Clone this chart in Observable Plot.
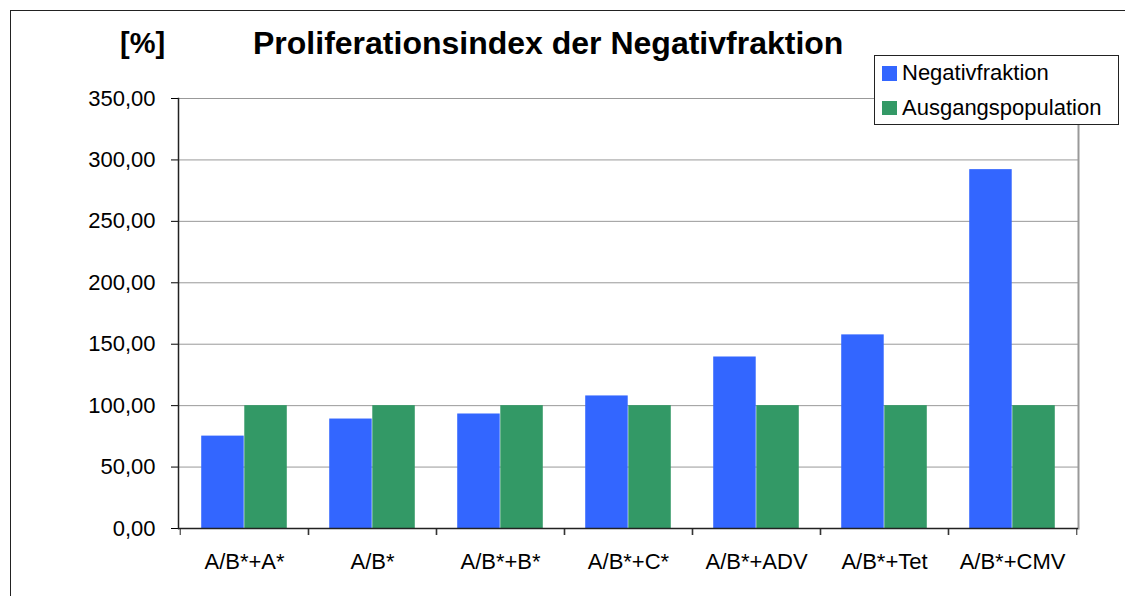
<!DOCTYPE html>
<html><head><meta charset="utf-8">
<script src="https://cdn.jsdelivr.net/npm/d3@7"></script>
<script src="https://cdn.jsdelivr.net/npm/@observablehq/plot@0.6"></script>
<style>
body{margin:0;background:#fff;font-family:"Liberation Sans",Arial,sans-serif;}
#wrap{position:relative;width:1125px;height:596px;overflow:hidden;background:#fff;}
#frame{position:absolute;left:10px;top:10px;width:1300px;height:800px;border:1.5px solid #222;}
#chart{position:absolute;left:0;top:0;}
#unit{position:absolute;left:120px;top:29px;font-size:29px;font-weight:bold;line-height:29px;white-space:nowrap;}
#title{position:absolute;left:253px;top:27px;font-size:32px;font-weight:bold;line-height:32px;white-space:nowrap;}
#legend{position:absolute;left:874px;top:55px;width:243px;height:68px;border:1px solid #222;background:#fff;z-index:2;}
.sw{position:absolute;width:14.5px;height:14.5px;}
.lt{position:absolute;font-size:22px;line-height:22px;white-space:nowrap;}
</style></head><body>
<div id="wrap">
 <div id="frame"></div>
 <div id="chart"></div>
 <div id="unit">[%]</div>
 <div id="title">Proliferationsindex der Negativfraktion</div>
 <div id="legend"></div>
</div>
<script>
const categories = ["A/B*+A*", "A/B*", "A/B*+B*", "A/B*+C*", "A/B*+ADV", "A/B*+Tet", "A/B*+CMV"];
const seriesNames = ["Negativfraktion", "Ausgangspopulation"];
const negativfraktion = [75.2, 89.1, 93.2, 107.9, 139.6, 157.6, 292.1];
const ausgangspopulation = [100, 100, 100, 100, 100, 100, 100];
const seriesColors = ["#3366ff", "#339966"];
const yTicks = [0, 50, 100, 150, 200, 250, 300, 350];

const data = categories.flatMap((c, i) => [
  {category: c, series: seriesNames[0], value: negativfraktion[i]},
  {category: c, series: seriesNames[1], value: ausgangspopulation[i]}
]);

const width = 1125, height = 596, mL = 178, mR = 47, mT = 98, mB = 68;
const step = (width - mL - mR) / categories.length;
const fmt = d => d.toFixed(2).replace(".", ",");

const chart = Plot.plot({
  width, height,
  marginLeft: mL, marginRight: mR, marginTop: mT, marginBottom: mB,
  style: {fontFamily: '"Liberation Sans", Arial, sans-serif', fontSize: "22px", color: "#000", background: "transparent"},
  x: {domain: categories, padding: 0},
  y: {domain: [0, 350]},
  color: {domain: seriesNames, range: seriesColors},
  marks: [
    Plot.gridY(yTicks, {stroke: "#999", strokeOpacity: 1}),
    Plot.barY(data.filter(d => d.series === seriesNames[0]), {x: "category", y: "value", fill: "series", insetLeft: step * 0.165, insetRight: step * 0.5}),
    Plot.barY(data.filter(d => d.series === seriesNames[1]), {x: "category", y: "value", fill: "series", insetLeft: step * 0.5, insetRight: step * 0.165}),
    Plot.frame({anchor: "right", stroke: "#999", strokeWidth: 2}),
    Plot.axisY({ticks: yTicks, tickFormat: fmt, tickSize: 7, tickPadding: 16, label: null, stroke: "#000"}),
    Plot.frame({anchor: "left", stroke: "#222", strokeWidth: 1.5}),
    Plot.ruleY([0], {stroke: "#222", strokeWidth: 1.5}),
    Plot.axisX({tickSize: 0, tickPadding: 25, label: null}),
    Plot.axisX({tickSize: 7, tickFormat: () => "", label: null, dx: -step / 2, stroke: "#222"}),
    Plot.axisX({tickSize: 7, tickFormat: () => "", label: null, dx: step / 2, stroke: "#222"})
  ]
});
document.getElementById("chart").appendChild(chart);

const legend = document.getElementById("legend");
seriesNames.forEach((name, i) => {
  const sw = document.createElement("div");
  sw.className = "sw";
  sw.style.left = "7px";
  sw.style.top = (10 + i * 34.5) + "px";
  sw.style.background = chart.scale("color").apply(name);
  legend.appendChild(sw);
  const t = document.createElement("div");
  t.className = "lt";
  t.style.left = "27px";
  t.style.top = (6 + i * 34.5) + "px";
  t.textContent = name;
  legend.appendChild(t);
});
</script>
</body></html>
